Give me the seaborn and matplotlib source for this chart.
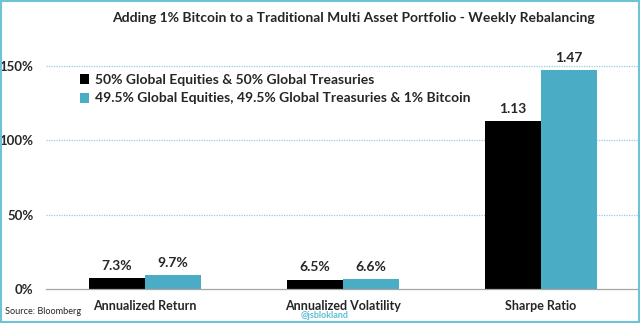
import matplotlib
matplotlib.use("Agg")
import matplotlib.pyplot as plt
import seaborn as sns
import pandas as pd
from matplotlib.patches import Rectangle

# ---- data ----
categories = ["Annualized Return", "Annualized Volatility", "Sharpe Ratio"]
series_names = ["50% Global Equities & 50% Global Treasuries",
                "49.5% Global Equities, 49.5% Global Treasuries & 1% Bitcoin"]
values_5050 = [0.073, 0.065, 1.13]
values_btc = [0.097, 0.066, 1.47]
labels_5050 = ["7.3%", "6.5%", "1.13"]
labels_btc = ["9.7%", "6.6%", "1.47"]
y_ticks = [0, 0.5, 1.0, 1.5]
y_tick_labels = ["0%", "50%", "100%", "150%"]

BLACK = "#000000"
AQUA = "#4BACC6"
GRID = "#8FD0E2"
BORDER = "#6EC3D6"

sns.set_theme(style="white")
plt.rcParams["font.family"] = ["Lato", "DejaVu Sans"]

df = pd.DataFrame({
    "metric": categories * 2,
    "portfolio": [series_names[0]] * 3 + [series_names[1]] * 3,
    "value": values_5050 + values_btc,
})

fig = plt.figure(figsize=(6.4, 3.23), dpi=100)
ax = fig.add_axes([46 / 640, 1 - 289.3 / 323, 594 / 640, (238.4) / 323])

sns.barplot(data=df, x="metric", y="value", hue="portfolio",
            order=categories, hue_order=series_names,
            palette=[BLACK, AQUA], width=0.57, gap=0, saturation=1,
            edgecolor="none", linewidth=0, ax=ax, legend=True)

ax.set_xlim(-0.5, 2.5)
ax.set_ylim(0, 1.6)
ax.set_yticks(y_ticks)
ax.set_yticklabels(y_tick_labels, fontsize=9.5, fontweight="bold")
for t in ax.get_xticklabels():
    t.set_fontsize(9)
    t.set_fontweight("bold")
ax.tick_params(axis="y", length=0, pad=9)
ax.tick_params(axis="x", which="major", length=0, pad=8)
ax.set_xticks([-0.5, 0.5, 1.5, 2.5], minor=True)
ax.tick_params(axis="x", which="minor", length=4, width=0.8, color="#A6A6A6", direction="out")
ax.set_xlabel("")
ax.set_ylabel("")

for y in y_ticks[1:]:
    ax.axhline(y, color=GRID, lw=0.9, ls=(0, (1, 1)), zorder=0)

for s in ["top", "right", "left"]:
    ax.spines[s].set_visible(False)
ax.spines["bottom"].set_color("#A6A6A6")
ax.spines["bottom"].set_linewidth(0.9)

# data labels
for container, labs in zip(ax.containers, [labels_5050, labels_btc]):
    ax.bar_label(container, labels=labs, padding=4.5, fontsize=10, fontweight="bold")

# legend
handles, _ = ax.get_legend_handles_labels()
ax.legend(handles, series_names, loc="upper left", bbox_to_anchor=(74 / 640, 1 - 68 / 323),
          bbox_transform=fig.transFigure, frameon=False,
          prop={"weight": "bold", "size": 10}, handlelength=0.7, handleheight=0.7,
          handletextpad=0.4, labelspacing=0.5, borderaxespad=0)

fig.text(0.552, 1 - 18 / 323, "Adding 1% Bitcoin to a Traditional Multi Asset Portfolio - Weekly Rebalancing",
         ha="center", va="center", fontsize=10, fontweight="bold")
fig.text(5 / 640, 1 - 311 / 323, "Source: Bloomberg", ha="left", va="center", fontsize=6.6)
fig.text(325 / 640, 1 - 316 / 323, "@jsblokland", ha="center", va="center", fontsize=6.5,
         color="#5BBFD9", fontweight="bold")

fig.add_artist(Rectangle((0.001, 0.002), 0.997, 0.995, transform=fig.transFigure,
                         fill=False, edgecolor=BORDER, lw=1.5))

fig.savefig("out.png", dpi=100)
